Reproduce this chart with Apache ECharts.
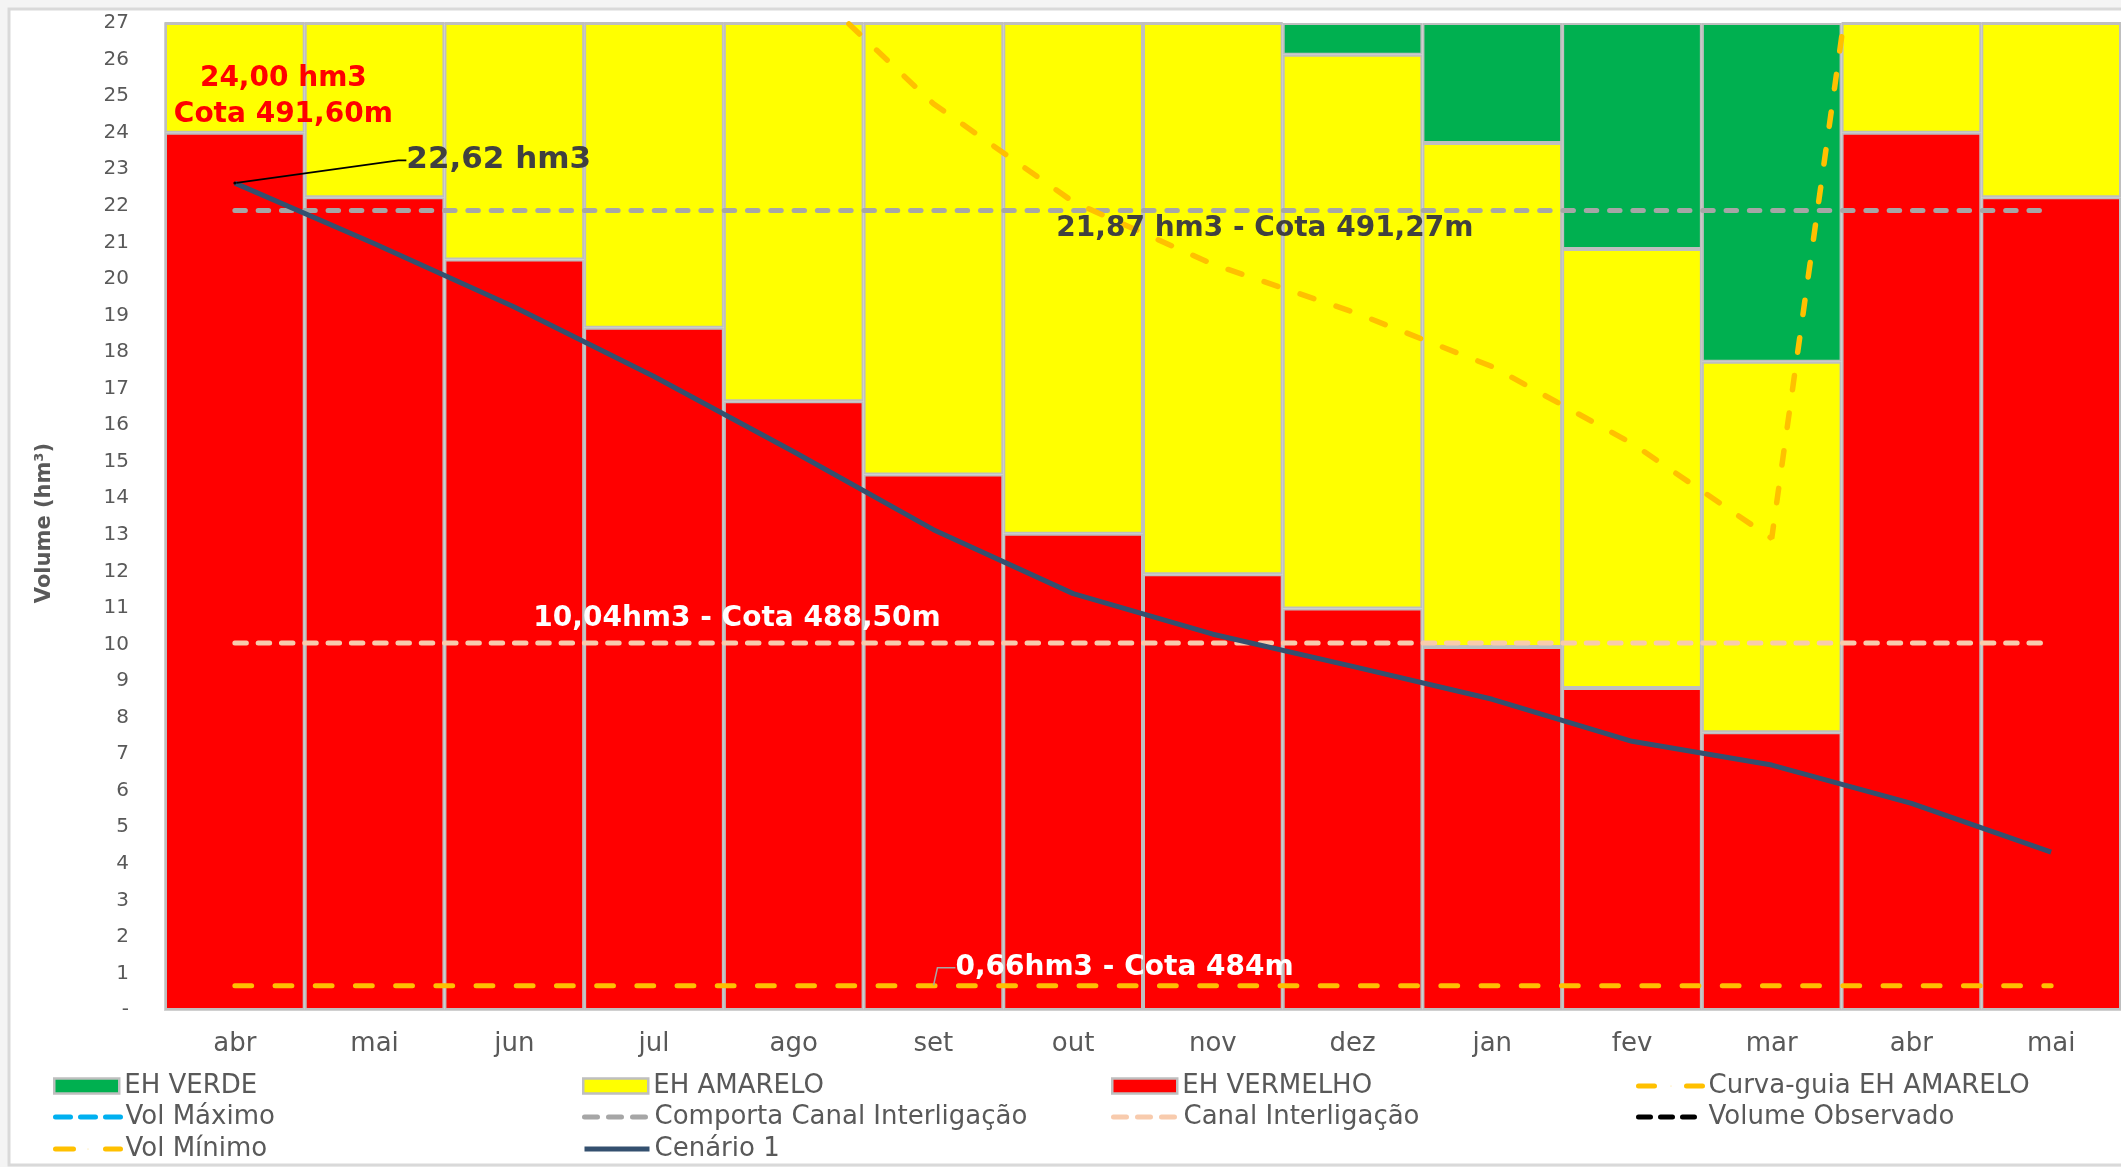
<!DOCTYPE html>
<html>
<head>
<meta charset="utf-8">
<script src="https://cdn.jsdelivr.net/npm/echarts@6/dist/echarts.min.js"></script>
<style>
html,body{margin:0;padding:0;background:#f4f4f4;}
#c{width:2121px;height:1167px;}
</style>
</head>
<body>
<div id="c"></div>
<script>
// ---- data ----
const categories = ['abr','mai','jun','jul','ago','set','out','nov','dez','jan','fev','mar','abr','mai'];
const ehVermelho = [24.00, 22.23, 20.53, 18.66, 16.65, 14.65, 13.03, 11.92, 10.98, 9.93, 8.81, 7.60, 24.00, 22.23];
const ehAmarelo  = [3.00, 4.77, 6.47, 8.34, 10.35, 12.35, 13.97, 15.08, 15.15, 13.79, 12.01, 10.13, 3.00, 4.77];
const ehVerde    = [0, 0, 0, 0, 0, 0, 0, 0, 0.87, 3.28, 6.18, 9.27, 0, 0];
const curvaGuia  = [null, null, null, null, 28.4, 24.79, 22.11, 20.40, 19.1, 17.6, 15.5, 12.9, 40.3, null];
const volMaximo  = [];
const comporta   = [21.87, 21.87, 21.87, 21.87, 21.87, 21.87, 21.87, 21.87, 21.87, 21.87, 21.87, 21.87, 21.87, 21.87];
const canal      = [10.04, 10.04, 10.04, 10.04, 10.04, 10.04, 10.04, 10.04, 10.04, 10.04, 10.04, 10.04, 10.04, 10.04];
const volMinimo  = [0.66, 0.66, 0.66, 0.66, 0.66, 0.66, 0.66, 0.66, 0.66, 0.66, 0.66, 0.66, 0.66, 0.66];
const volumeObservado = [22.62, null, null, null, null, null, null, null, null, null, null, null, null, null];
const cenario1   = [22.62, 20.96, 19.23, 17.33, 15.27, 13.14, 11.39, 10.28, 9.40, 8.50, 7.35, 6.70, 5.65, 4.32];
const yMin = 0, yMax = 27, yStep = 1;

// ---- texts ----
const txtTopo = '24,00 hm3\nCota 491,60m';
const txtObs = '22,62 hm3';
const txtComporta = '21,87 hm3 - Cota 491,27m';
const txtCanal = '10,04hm3 - Cota 488,50m';
const txtMinimo = '0,66hm3 - Cota 484m';

const FONT = 'DejaVu Sans';
const chart = echarts.init(document.getElementById('c'), null, {renderer: 'canvas'});

function withLabel(arr, idx, label, extra) {
  return arr.map((v, i) => i === idx ? Object.assign({value: v, label: label}, extra || {}) : v);
}
const tinySym = {symbol: 'circle', symbolSize: 1};

// line styles (series and legend icons)
const LS = {
  'Vol Máximo': {color: '#00B0F0', width: 5, type: [15, 13], cap: 'round'},
  'Comporta Canal Interligação': {color: '#A6A6A6', width: 5, type: [10.5, 12.8], cap: 'round'},
  'Canal Interligação': {color: '#F8CBAD', width: 5, type: [11.5, 11.8], cap: 'round'},
  'Vol Mínimo': {color: '#FFC000', width: 5, type: [16.8, 23.4], cap: 'round'},
  'Curva-guia EH AMARELO': {color: '#FFC000', width: 5.5, type: [14.5, 23.5], cap: 'round'},
  'Cenário 1': {color: '#34506F', width: 5, type: 'solid', cap: 'butt'},
  'Volume Observado': {color: '#000000', width: 5, type: [8, 10], cap: 'round'}
};
const LEG_LS = {
  'Vol Máximo': {color: '#00B0F0', width: 5, type: [15, 10], cap: 'round'},
  'Comporta Canal Interligação': {color: '#A6A6A6', width: 5, type: [13, 11], cap: 'round'},
  'Canal Interligação': {color: '#F8CBAD', width: 5, type: [13, 11], cap: 'round'},
  'Vol Mínimo': {color: '#FFC000', width: 5, type: [18, 32], cap: 'round'},
  'Curva-guia EH AMARELO': {color: '#FFC000', width: 5, type: [16, 32], cap: 'round'},
  'Cenário 1': {color: '#34506F', width: 5, type: 'solid', cap: 'butt'},
  'Volume Observado': {color: '#000000', width: 5, type: [12, 10], cap: 'round'}
};

const legendLayout = [
  ['EH VERDE', 0, 0, 'bar'], ['EH AMARELO', 1, 0, 'bar'], ['EH VERMELHO', 2, 0, 'bar'], ['Curva-guia EH AMARELO', 3, 0, 'line'],
  ['Vol Máximo', 0, 1, 'line'], ['Comporta Canal Interligação', 1, 1, 'line'], ['Canal Interligação', 2, 1, 'line'], ['Volume Observado', 3, 1, 'line'],
  ['Vol Mínimo', 0, 2, 'line'], ['Cenário 1', 1, 2, 'line']
];
const colX = [53, 582, 1111, 1636];
const rowY = [1086, 1117, 1149];

const option = {
  animation: false,
  backgroundColor: '#f4f4f4',
  textStyle: {fontFamily: FONT},
  graphic: [
    {type: 'rect', z: -10, silent: true, shape: {x: 9, y: 9, width: 2140, height: 1156},
     style: {fill: '#ffffff', stroke: '#D9D9D9', lineWidth: 3}},
    {type: 'text', x: 45, y: 523, rotation: Math.PI / 2, silent: true,
     style: {text: 'Volume (hm³)', font: 'bold 21px "DejaVu Sans"', fill: '#595959', align: 'center', verticalAlign: 'middle'}}
  ],
  legend: legendLayout.map(([name, c, r, kind]) => {
    const l = {
      data: [name], left: colX[c], top: rowY[r] - 13, padding: 0, selectedMode: false,
      itemWidth: 65, itemHeight: kind === 'bar' ? 15 : 1,
      textStyle: {fontSize: 26, color: '#595959', fontFamily: FONT}
    };
    if (kind === 'bar') {
      l.icon = 'rect';
      l.itemStyle = {borderColor: '#BFBFBF', borderWidth: 2.5};
    } else {
      l.lineStyle = LEG_LS[name];
    }
    return l;
  }),
  grid: {left: 165, top: 23, width: 1960, bottom: 157, containLabel: false},
  xAxis: {
    type: 'category', data: categories,
    axisLine: {show: true, lineStyle: {color: '#D0D0D0', width: 2}},
    axisTick: {show: false},
    axisLabel: {fontSize: 26, color: '#595959', margin: 21, fontFamily: FONT},
    splitLine: {show: false}
  },
  yAxis: {
    type: 'value', min: yMin, max: yMax, interval: yStep,
    axisLine: {show: true, lineStyle: {color: '#D0D0D0', width: 2}},
    axisTick: {show: false},
    splitLine: {show: false},
    axisLabel: {fontSize: 20, color: '#595959', margin: 36, fontFamily: FONT,
      formatter: v => v === 0 ? '-' : String(v)}
  },
  series: [
    {name: 'EH VERMELHO', type: 'bar', stack: 'eh', barCategoryGap: '0%',
     itemStyle: {color: '#FF0000', borderColor: '#BFBFBF', borderWidth: 2},
     data: withLabel(ehVermelho, 0, {show: true, position: 'top', distance: 0, offset: [48.5, 0],
       formatter: txtTopo, color: '#FF0000', fontSize: 28, fontWeight: 'bold', lineHeight: 36, fontFamily: FONT})},
    {name: 'EH AMARELO', type: 'bar', stack: 'eh', barCategoryGap: '0%',
     itemStyle: {color: '#FFFF00', borderColor: '#BFBFBF', borderWidth: 2}, data: ehAmarelo},
    {name: 'EH VERDE', type: 'bar', stack: 'eh', barCategoryGap: '0%',
     itemStyle: {color: '#00B050', borderColor: '#BFBFBF', borderWidth: 2}, data: ehVerde},

    {name: 'Vol Máximo', type: 'line', symbol: 'none', data: volMaximo,
     lineStyle: LS['Vol Máximo'], itemStyle: {color: '#00B0F0'}},
    {name: 'Comporta Canal Interligação', type: 'line', symbol: 'none',
     lineStyle: LS['Comporta Canal Interligação'], itemStyle: {color: '#A6A6A6'},
     data: withLabel(comporta, 7, {show: true, position: 'inside', offset: [52, 18],
       formatter: txtComporta, color: '#404040', fontSize: 28, fontWeight: 'bold', fontFamily: FONT}, tinySym)},
    {name: 'Canal Interligação', type: 'line', symbol: 'none',
     lineStyle: LS['Canal Interligação'], itemStyle: {color: '#F8CBAD'},
     data: withLabel(canal, 3, {show: true, position: 'inside', offset: [83, -24.6],
       formatter: txtCanal, color: '#FFFFFF', fontSize: 28, fontWeight: 'bold', fontFamily: FONT}, tinySym)},
    {name: 'Vol Mínimo', type: 'line', symbol: 'none',
     lineStyle: LS['Vol Mínimo'], itemStyle: {color: '#FFC000'},
     labelLayout: {dx: 16.5, dy: -18},
     labelLine: {show: true, length2: 18, lineStyle: {color: '#A6A6A6', width: 1.5}},
     data: withLabel(volMinimo, 5, {show: true, position: 'right', distance: 5,
       formatter: txtMinimo, color: '#FFFFFF', fontSize: 28, fontWeight: 'bold', fontFamily: FONT}, tinySym)},
    {name: 'Curva-guia EH AMARELO', type: 'line', symbol: 'none', connectNulls: false,
     lineStyle: LS['Curva-guia EH AMARELO'], itemStyle: {color: '#FFC000'},
     data: curvaGuia},
    {name: 'Cenário 1', type: 'line', symbol: 'none',
     lineStyle: LS['Cenário 1'], itemStyle: {color: '#34506F'}, data: cenario1},
    {name: 'Volume Observado', type: 'line', symbol: 'circle', symbolSize: 3,
     lineStyle: LS['Volume Observado'], itemStyle: {color: '#000000'},
     labelLayout: {dx: 165, dy: -22.7},
     labelLine: {show: true, length2: 8, lineStyle: {color: '#000000', width: 1.8}},
     data: withLabel(volumeObservado, 0, {show: true, position: 'right', distance: 5,
       formatter: txtObs, color: '#404040', fontSize: 31, fontWeight: 'bold', fontFamily: FONT})}
  ]
};
chart.setOption(option);
</script>
</body>
</html>
